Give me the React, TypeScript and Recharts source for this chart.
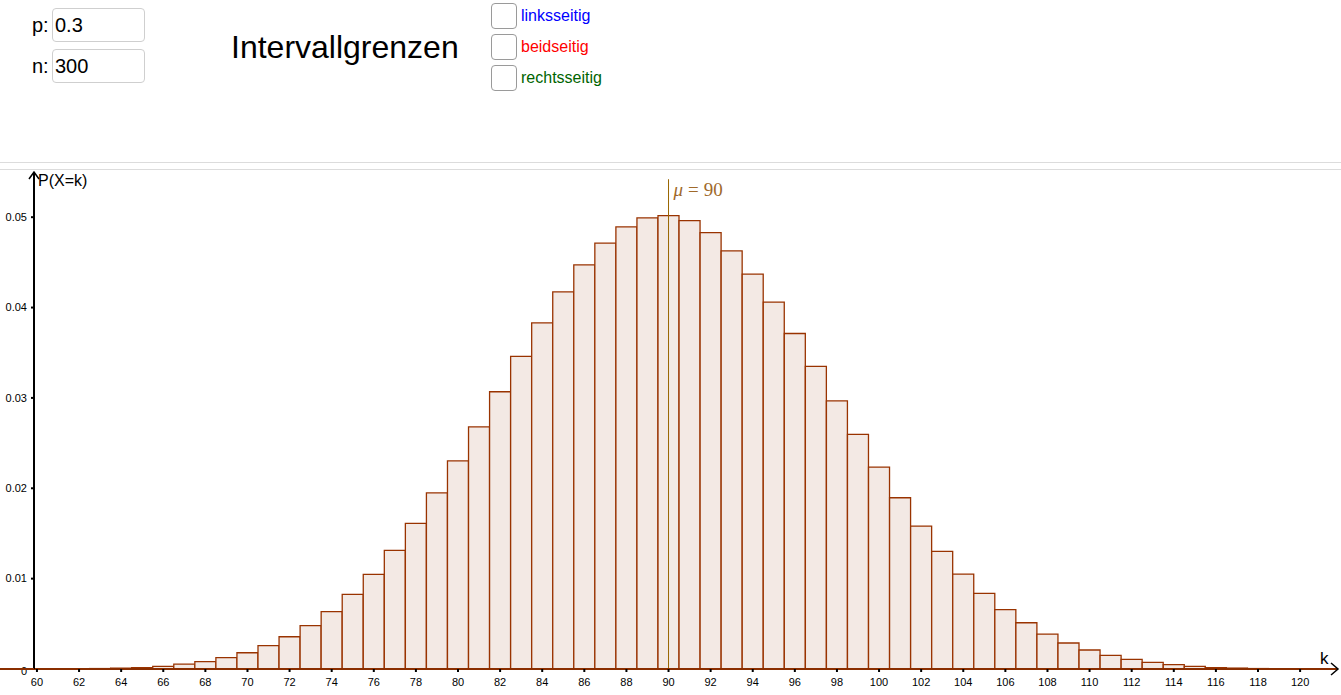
import { ComposedChart, Bar, XAxis, YAxis, ReferenceLine, ReferenceDot } from 'recharts';

// k values and P(X=k) (n = 300, p = 0.3)
const K_VALUES = [
  60, 61, 62, 63, 64, 65, 66, 67, 68, 69, 70, 71, 72, 73, 74, 75, 76, 77, 78, 79, 80,
  81, 82, 83, 84, 85, 86, 87, 88, 89, 90, 91, 92, 93, 94, 95, 96, 97, 98, 99, 100,
  101, 102, 103, 104, 105, 106, 107, 108, 109, 110, 111, 112, 113, 114, 115, 116, 117, 118, 119, 120,
];
const PROBS = [
  0, 0.00001, 0.00002, 0.00005, 0.0001, 0.00015, 0.0003, 0.00055, 0.00081, 0.00125, 0.0018,
  0.00258, 0.00357, 0.00479, 0.00634, 0.00826, 0.01048, 0.01313, 0.01612, 0.0195, 0.02304,
  0.0268, 0.03068, 0.03459, 0.03831, 0.04174, 0.04473, 0.04712, 0.04893, 0.04993, 0.05018,
  0.04963, 0.0483, 0.04627, 0.04369, 0.0406, 0.03713, 0.03348, 0.02968, 0.02596, 0.02235,
  0.01895, 0.01582, 0.01302, 0.01051, 0.00837, 0.00656, 0.00512, 0.00387, 0.00288, 0.0021,
  0.00151, 0.00107, 0.00074, 0.00048, 0.0003, 0.00015, 0.0001, 0.00005, 0.00002, 0.00001,
];
const X_TICKS = [60, 62, 64, 66, 68, 70, 72, 74, 76, 78, 80, 82, 84, 86, 88, 90, 92, 94, 96, 98, 100, 102, 104, 106, 108, 110, 112, 114, 116, 118, 120];
const Y_TICKS = [0, 0.01, 0.02, 0.03, 0.04, 0.05];
const X_MIN = 59.86;
const X_MAX = 121.8;
const Y_MAX = 0.055;
const MEAN = 90;

const data = K_VALUES.map((k, i) => ({ k, p: PROBS[i] }));

const FONT = '"Liberation Sans", Arial, sans-serif';
const BAR_STROKE = '#993300';
const BAR_FILL = '#f3e9e4';

function YTick(props: any) {
  const { x, y, payload } = props;
  const v = payload.value;
  return (
    <text x={x - 2} y={v === 0 ? y + 2 : y} dy="0.35em" textAnchor="end" fontSize={11} fill="#000" fontFamily={FONT}>
      {v === 0 ? '0' : v.toFixed(2)}
    </text>
  );
}

function ArrowRight(props: any) {
  const { cx, cy } = props;
  return <path d={`M${cx - 7},${cy - 6} L${cx},${cy} L${cx - 7},${cy + 6}`} fill="none" stroke="#000" strokeWidth={1.5} />;
}

function ArrowUp(props: any) {
  const { cx, cy } = props;
  return <path d={`M${cx - 5},${cy + 7} L${cx},${cy} L${cx + 5},${cy + 7}`} fill="none" stroke="#000" strokeWidth={1.5} />;
}

function MeanLabel(props: any) {
  const { cx, cy } = props;
  return (
    <text x={cx + 5} y={cy} fontSize={19} fill="#a0692a" fontFamily='"Liberation Serif", serif'>
      <tspan fontStyle="italic">μ</tspan>
      <tspan dx={5}>=</tspan>
      <tspan dx={5}>90</tspan>
    </text>
  );
}

function Checkbox({ top, label, color }: { top: number; label: string; color: string }) {
  return (
    <>
      <div style={{ position: 'absolute', left: 491, top, width: 24, height: 24, border: '1px solid #9a9a9a', borderRadius: 4 }} />
      <div style={{ position: 'absolute', left: 521, top: top + 3, fontSize: 16, color, lineHeight: '20px' }}>{label}</div>
    </>
  );
}

function InputBox({ top, label, value }: { top: number; label: string; value: string }) {
  return (
    <>
      <div style={{ position: 'absolute', left: 32, top: top + 5, fontSize: 20, lineHeight: '24px' }}>{label}</div>
      <div style={{ position: 'absolute', left: 52, top, width: 89, height: 32, border: '1px solid #cfcfcf', borderRadius: 4, fontSize: 20, lineHeight: '32px', paddingLeft: 2, boxSizing: 'content-box' }}>
        {value}
      </div>
    </>
  );
}

export default function App() {
  return (
    <div style={{ position: 'absolute', left: 0, top: 0, width: 1341, height: 695, background: '#fff', fontFamily: FONT, overflow: 'hidden' }}>
      <InputBox top={8} label="p:" value="0.3" />
      <InputBox top={49} label="n:" value="300" />
      <div style={{ position: 'absolute', left: 231, top: 28, fontSize: 32, lineHeight: '38px' }}>Intervallgrenzen</div>
      <Checkbox top={3} label="linksseitig" color="#0000ff" />
      <Checkbox top={34} label="beidseitig" color="#ff0000" />
      <Checkbox top={65} label="rechtsseitig" color="#006400" />

      <div style={{ position: 'absolute', left: 0, top: 162, width: 1341, height: 1, background: '#dcdcdc' }} />
      <div style={{ position: 'absolute', left: 0, top: 169, width: 1341, height: 1, background: '#dcdcdc' }} />

      <div style={{ position: 'absolute', left: 0, top: 170 }}>
        <ComposedChart width={1341} height={525} data={data} margin={{ top: 2, right: 3, left: 0, bottom: 0 }} barCategoryGap={0} barGap={0}>
          <XAxis
            type="number"
            dataKey="k"
            domain={[X_MIN, X_MAX]}
            allowDataOverflow
            ticks={X_TICKS}
            interval={0}
            height={26}
            axisLine={{ stroke: '#8a2e00', strokeWidth: 2 }}
            tickLine={{ stroke: '#000', strokeWidth: 2 }}
            tickSize={3}
            tickMargin={6}
            tick={{ fontSize: 11, fill: '#000', fontFamily: FONT }}
          />
          <YAxis
            type="number"
            domain={[0, Y_MAX]}
            allowDataOverflow
            ticks={Y_TICKS}
            width={34}
            axisLine={{ stroke: '#000', strokeWidth: 2 }}
            tickLine={{ stroke: '#000', strokeWidth: 2 }}
            tickSize={3}
            tick={<YTick />}
          />
          <Bar dataKey="p" fill={BAR_FILL} stroke={BAR_STROKE} strokeWidth={1.3} isAnimationActive={false} />
          <ReferenceLine segment={[{ x: MEAN, y: 0 }, { x: MEAN, y: 0.0542 }]} stroke="#996600" strokeWidth={1} />
          <ReferenceDot x={MEAN} y={0.0523} ifOverflow="visible" shape={<MeanLabel />} />
          <ReferenceDot x={X_MAX} y={0} ifOverflow="visible" shape={<ArrowRight />} />
          <ReferenceDot x={X_MIN} y={Y_MAX} ifOverflow="visible" shape={<ArrowUp />} />
        </ComposedChart>
      </div>

      <div style={{ position: 'absolute', left: 0, top: 668, width: 34, height: 2, background: '#8a2e00' }} />
      <div style={{ position: 'absolute', left: 38, top: 172, fontSize: 16, lineHeight: '18px' }}>P(X=k)</div>
      <div style={{ position: 'absolute', left: 1320, top: 649, fontSize: 17, lineHeight: '20px' }}>k</div>
    </div>
  );
}
